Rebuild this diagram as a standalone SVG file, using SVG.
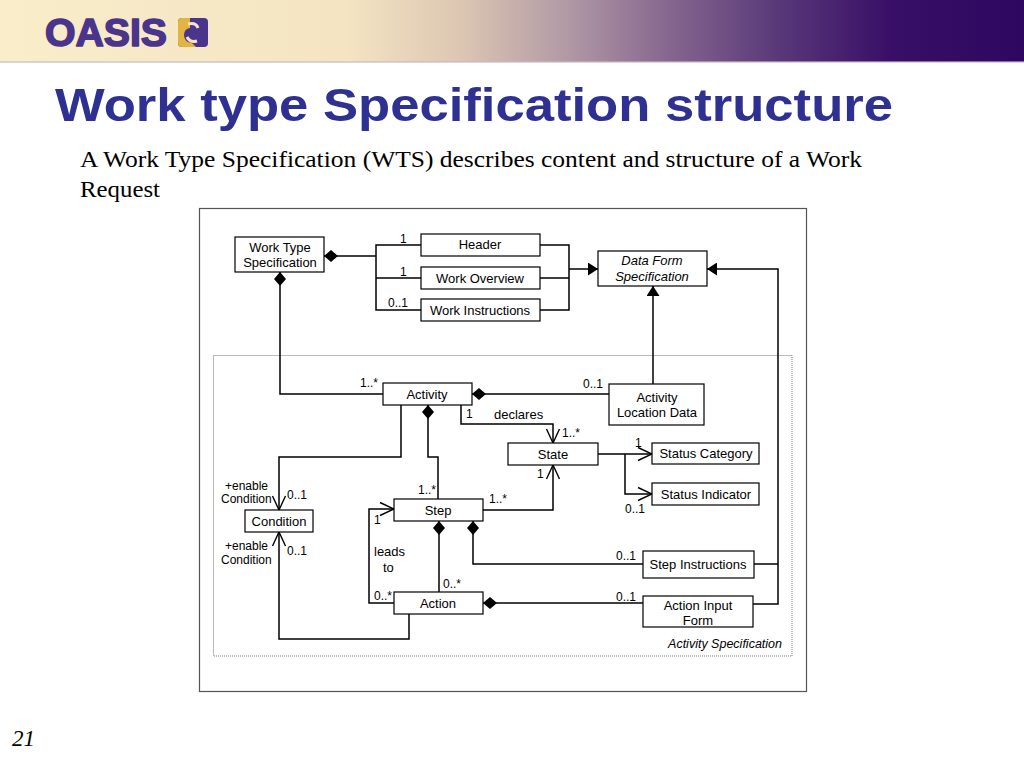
<svg xmlns="http://www.w3.org/2000/svg" width="1024" height="768" viewBox="0 0 1024 768">
<defs>
<linearGradient id="hdr" x1="0" y1="0" x2="1" y2="0">
<stop offset="0" stop-color="#f9edca"/>
<stop offset="0.34" stop-color="#f4e4c2"/>
<stop offset="0.45" stop-color="#dcc6b2"/>
<stop offset="0.55" stop-color="#b39ba6"/>
<stop offset="0.65" stop-color="#87688f"/>
<stop offset="0.76" stop-color="#593879"/>
<stop offset="0.87" stop-color="#380f66"/>
<stop offset="1" stop-color="#2d0760"/>
</linearGradient>
<marker id="dia" viewBox="0 0 16 14" refX="1" refY="7" markerWidth="16" markerHeight="14" orient="auto" markerUnits="userSpaceOnUse"><path d="M1,7 L8,1 L15,7 L8,13 Z" fill="#000"/></marker>
<marker id="tri" viewBox="0 0 10 13" refX="10" refY="6.5" markerWidth="10" markerHeight="13" orient="auto" markerUnits="userSpaceOnUse"><path d="M0,0 L10,6.5 L0,13 Z" fill="#000"/></marker>
<marker id="open" viewBox="0 0 16 16" refX="15" refY="8" markerWidth="16" markerHeight="16" orient="auto" markerUnits="userSpaceOnUse"><path d="M1,1.5 L15,8 L1,14.5" fill="none" stroke="#000" stroke-width="1.4"/></marker>
<style>
.box{fill:#fff;stroke:#000;stroke-width:1.2}
.t{font-family:"Liberation Sans",Arial,sans-serif;font-size:13px;fill:#000;text-anchor:middle}
.ti{font-family:"Liberation Sans",Arial,sans-serif;font-size:13px;fill:#000;text-anchor:middle;font-style:italic}
.m{font-family:"Liberation Sans",Arial,sans-serif;font-size:12px;fill:#000}
.c{fill:none;stroke:#000;stroke-width:1.5}
</style>
</defs>
<rect width="1024" height="768" fill="#fff"/>
<g id="header">
<rect x="0" y="0" width="1024" height="62" fill="url(#hdr)"/>
<rect x="0" y="61" width="1024" height="2" fill="#c9b8c0" opacity="0.6"/>
<text x="45" y="46" font-family="Liberation Sans,Arial,sans-serif" font-weight="bold" font-size="39" fill="#4b348b" stroke="#4b348b" stroke-width="1.6" stroke-linejoin="round" textLength="122" lengthAdjust="spacingAndGlyphs">OASIS</text>
<g id="logo-icon">
<rect x="178" y="18" width="30" height="29" rx="4" fill="#4b348b"/>
<path d="M178,22 Q178,18 182,18 L190,18 L190,28 Q184,29 184,35 Q184,42 192,43 L196,47 L182,47 Q178,47 178,43 Z" fill="#e2b443"/>
<path d="M188,24 Q196,22 198,28" fill="none" stroke="#f4e4c2" stroke-width="3"/>
<path d="M197,41 Q190,43 187,37" fill="none" stroke="#f4e4c2" stroke-width="3"/>
</g>
</g>
<text x="55" y="121" font-family="Liberation Sans,Arial,sans-serif" font-weight="bold" font-size="46" fill="#2e3192" textLength="838" lengthAdjust="spacingAndGlyphs">Work type Specification structure</text>
<text x="80" y="167" font-family="Liberation Serif,Times New Roman,serif" font-size="24" fill="#000" textLength="782" lengthAdjust="spacingAndGlyphs">A Work Type Specification (WTS) describes content and structure of a Work</text>
<text x="80" y="197" font-family="Liberation Serif,Times New Roman,serif" font-size="24" fill="#000" textLength="80" lengthAdjust="spacingAndGlyphs">Request</text>
<text x="12" y="746" font-family="Liberation Serif,Times New Roman,serif" font-size="23" font-style="italic" fill="#000">21</text>

<rect x="199.5" y="208.5" width="607" height="483" fill="#fff" stroke="#555" stroke-width="1.2"/>
<rect x="213.5" y="355.5" width="578.5" height="300.5" fill="none" stroke="#777" stroke-width="1" stroke-dasharray="1,1"/>
<text x="782" y="648" class="ti" style="text-anchor:end;font-size:12.5px">Activity Specification</text>

<g id="connectors">
<path class="c" d="M324,256 H376" marker-start="url(#dia)"/>
<path class="c" d="M421,245 H376 V310 H421 M376,278 H421"/>
<path class="c" d="M540,245 H569 V310 H540 M540,278 H569"/>
<path class="c" d="M569,269 H598" marker-end="url(#tri)"/>
<path class="c" d="M653,384 V286" marker-end="url(#tri)"/>
<path class="c" d="M753,604 H778 V269 H707" marker-end="url(#tri)"/>
<path class="c" d="M754,564 H778"/>
<path class="c" d="M280,272 V394 H383" marker-start="url(#dia)"/>
<path class="c" d="M472,394 H609" marker-start="url(#dia)"/>
<path class="c" d="M461,405 V424 H553 V443" marker-end="url(#open)"/>
<path class="c" d="M401,405 V457 H279 V510" marker-end="url(#open)"/>
<path class="c" d="M428,405 V457 H438 V499" marker-start="url(#dia)"/>
<path class="c" d="M483,510 H553 V465" marker-end="url(#open)"/>
<path class="c" d="M598,454 H652" marker-end="url(#open)"/>
<path class="c" d="M625,454 V494 H652" marker-end="url(#open)"/>
<path class="c" d="M439,521 V593" marker-start="url(#dia)"/>
<path class="c" d="M473,521 V564 H643" marker-start="url(#dia)"/>
<path class="c" d="M394,603 H369 V509 H394" marker-end="url(#open)"/>
<path class="c" d="M483,603 H643" marker-start="url(#dia)"/>
<path class="c" d="M409,614 V639 H279 V532" marker-end="url(#open)"/>
</g>

<g id="labels">
<text class="m" x="400" y="243">1</text>
<text class="m" x="400" y="276">1</text>
<text class="m" x="388" y="307">0..1</text>
<text class="m" x="360" y="387">1..*</text>
<text class="m" x="583" y="388">0..1</text>
<text class="m" x="466" y="418">1</text>
<text class="m" x="494" y="419" style="font-size:13px">declares</text>
<text class="m" x="562" y="437">1..*</text>
<text class="m" x="635" y="447">1</text>
<text class="m" x="537" y="478">1</text>
<text class="m" x="625" y="513">0..1</text>
<text class="m" x="418" y="494">1..*</text>
<text class="m" x="489" y="503">1..*</text>
<text class="m" x="225" y="490">+enable</text>
<text class="m" x="221" y="503">Condition</text>
<text class="m" x="287" y="499">0..1</text>
<text class="m" x="374" y="524">1</text>
<text class="m" x="374" y="556" style="font-size:13px">leads</text>
<text class="m" x="383" y="572" style="font-size:13px">to</text>
<text class="m" x="374" y="600">0..*</text>
<text class="m" x="443" y="588">0..*</text>
<text class="m" x="225" y="550">+enable</text>
<text class="m" x="221" y="564">Condition</text>
<text class="m" x="287" y="555">0..1</text>
<text class="m" x="616" y="560">0..1</text>
<text class="m" x="616" y="601">0..1</text>
</g>

<g id="n-wts"><rect class="box" x="235" y="237" width="89" height="35"/><text class="t" x="280" y="252">Work Type</text><text class="t" x="280" y="267">Specification</text></g>
<g id="n-header"><rect class="box" x="421" y="234" width="119" height="22"/><text class="t" x="480" y="249">Header</text></g>
<g id="n-overview"><rect class="box" x="421" y="267" width="119" height="22"/><text class="t" x="480" y="283">Work Overview</text></g>
<g id="n-instructions"><rect class="box" x="421" y="299" width="119" height="22"/><text class="t" x="480" y="315">Work Instructions</text></g>
<g id="n-dfs"><rect class="box" x="598" y="251" width="109" height="35"/><text class="ti" x="652" y="265">Data Form</text><text class="ti" x="652" y="281">Specification</text></g>
<g id="n-activity"><rect class="box" x="383" y="383" width="89" height="22"/><text class="t" x="427" y="399">Activity</text></g>
<g id="n-ald"><rect class="box" x="609" y="384" width="95" height="41"/><text class="t" x="657" y="402">Activity</text><text class="t" x="657" y="417">Location Data</text></g>
<g id="n-state"><rect class="box" x="508" y="443" width="90" height="22"/><text class="t" x="553" y="459">State</text></g>
<g id="n-statcat"><rect class="box" x="652" y="443" width="107" height="21"/><text class="t" x="706" y="458">Status Category</text></g>
<g id="n-statind"><rect class="box" x="652" y="483" width="107" height="22"/><text class="t" x="706" y="499">Status Indicator</text></g>
<g id="n-condition"><rect class="box" x="245" y="510" width="68" height="22"/><text class="t" x="279" y="526">Condition</text></g>
<g id="n-step"><rect class="box" x="394" y="499" width="89" height="22"/><text class="t" x="438" y="515">Step</text></g>
<g id="n-stepinstr"><rect class="box" x="643" y="551" width="111" height="27"/><text class="t" x="698" y="569">Step Instructions</text></g>
<g id="n-action"><rect class="box" x="394" y="592" width="89" height="22"/><text class="t" x="438" y="608">Action</text></g>
<g id="n-aif"><rect class="box" x="643" y="596" width="110" height="31"/><text class="t" x="698" y="610">Action Input</text><text class="t" x="698" y="625">Form</text></g>
</svg>
